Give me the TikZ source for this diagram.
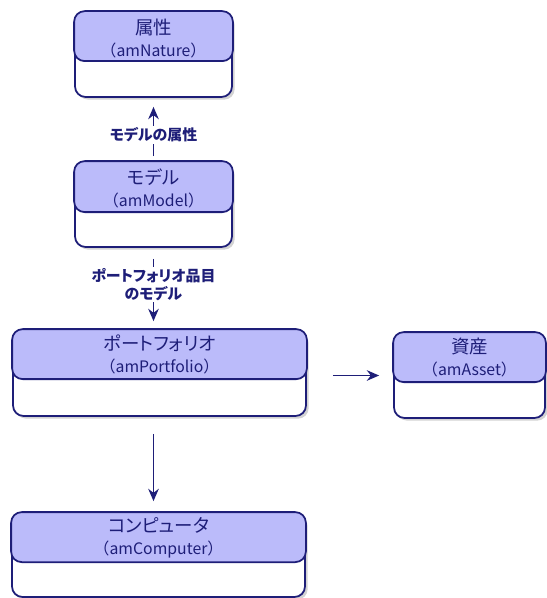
\documentclass[tikz,border=0pt]{standalone}
\usepackage{fontspec}
\setmainfont{Noto Sans CJK JP}
\newfontfamily\paltfont{Noto Sans CJK JP}[RawFeature=+palt]
\usetikzlibrary{arrows.meta,calc,fit,shadows}
\definecolor{navy}{RGB}{30,30,120}
\definecolor{headfill}{RGB}{187,187,250}
\newcommand\bigline{\paltfont\fontsize{10.5}{12.5}\selectfont}
\tikzset{
	cls/.style={draw=navy, line width=1pt, rounded corners=6pt, fill=white, inner sep=0pt,
		drop shadow={shadow xshift=1.5pt, shadow yshift=-1.5pt, opacity=0.35, fill=gray}},
	head/.style={draw=navy, line width=1pt, rounded corners=6pt, fill=headfill},
	title/.style={align=center, text=navy, font=\fontsize{9}{12.5}\selectfont},
	link/.style={draw=navy, line width=1.1pt, -{Stealth[length=7pt,width=6pt]}},
	lbl/.style={fill=white, align=center, text=navy, inner sep=1pt, font=\paltfont\fontsize{8.5}{10}\selectfont\bfseries}
}
\begin{document}
\begin{tikzpicture}[x=0.02cm, y=-0.02cm]
		\useasboundingbox (0,0) rectangle (547,598);

		\node[cls, fit={(75,12) (232,97)}] (nature) {};
		\node[cls, fit={(75,162) (232,247)}] (model) {};
		\node[cls, fit={(13,330) (306,416)}] (portfolio) {};
		\node[cls, fit={(394,333) (545,418)}] (asset) {};
		\node[cls, fit={(12,513) (305,597)}] (computer) {};

		\draw[head] (nature.north west) rectangle ($(nature.north east)+(0,50)$);
		\draw[head] (model.north west) rectangle ($(model.north east)+(0,51)$);
		\draw[head] (portfolio.north west) rectangle ($(portfolio.north east)+(0,50)$);
		\draw[head] (asset.north west) rectangle ($(asset.north east)+(0,50)$);
		\draw[head] (computer.north west) rectangle ($(computer.north east)+(0,50)$);

		\node[title] (natureT) at ($(nature.north)+(0,27)$) {{\bigline 属性}\\（amNature）};
		\node[title] (modelT) at ($(model.north)+(0,27)$) {{\bigline モデル}\\（amModel）};
		\node[title] (portfolioT) at ($(portfolio.north)+(0,25)$) {{\bigline ポートフォリオ}\\（amPortfolio）};
		\node[title] (assetT) at ($(asset.north)+(0,25)$) {{\bigline 資産}\\（amAsset）};
		\node[title] (computerT) at ($(computer.north)+(0,26)$) {{\bigline コンピュータ}\\（amComputer）};

		\draw[link, shorten <=0.1cm, shorten >=0.18cm] (model) -- node[lbl, pos=0.42] (natureL) {モデルの属性} (nature);
		\draw[link, shorten <=0.22cm, shorten >=0.16cm] (model.south) -- node[lbl, pos=0.45] (modelL) {ポートフォリオ品目\\のモデル} (model.south |- portfolio.north);
		\draw[link, shorten <=0.52cm, shorten >=0.28cm] (portfolio.east |- asset.west) -- (asset.west);
		\draw[link, shorten <=0.34cm, shorten >=0.22cm] (model.south |- portfolio.south) -- (model.south |- computer.north);
	\end{tikzpicture}
\end{document}
